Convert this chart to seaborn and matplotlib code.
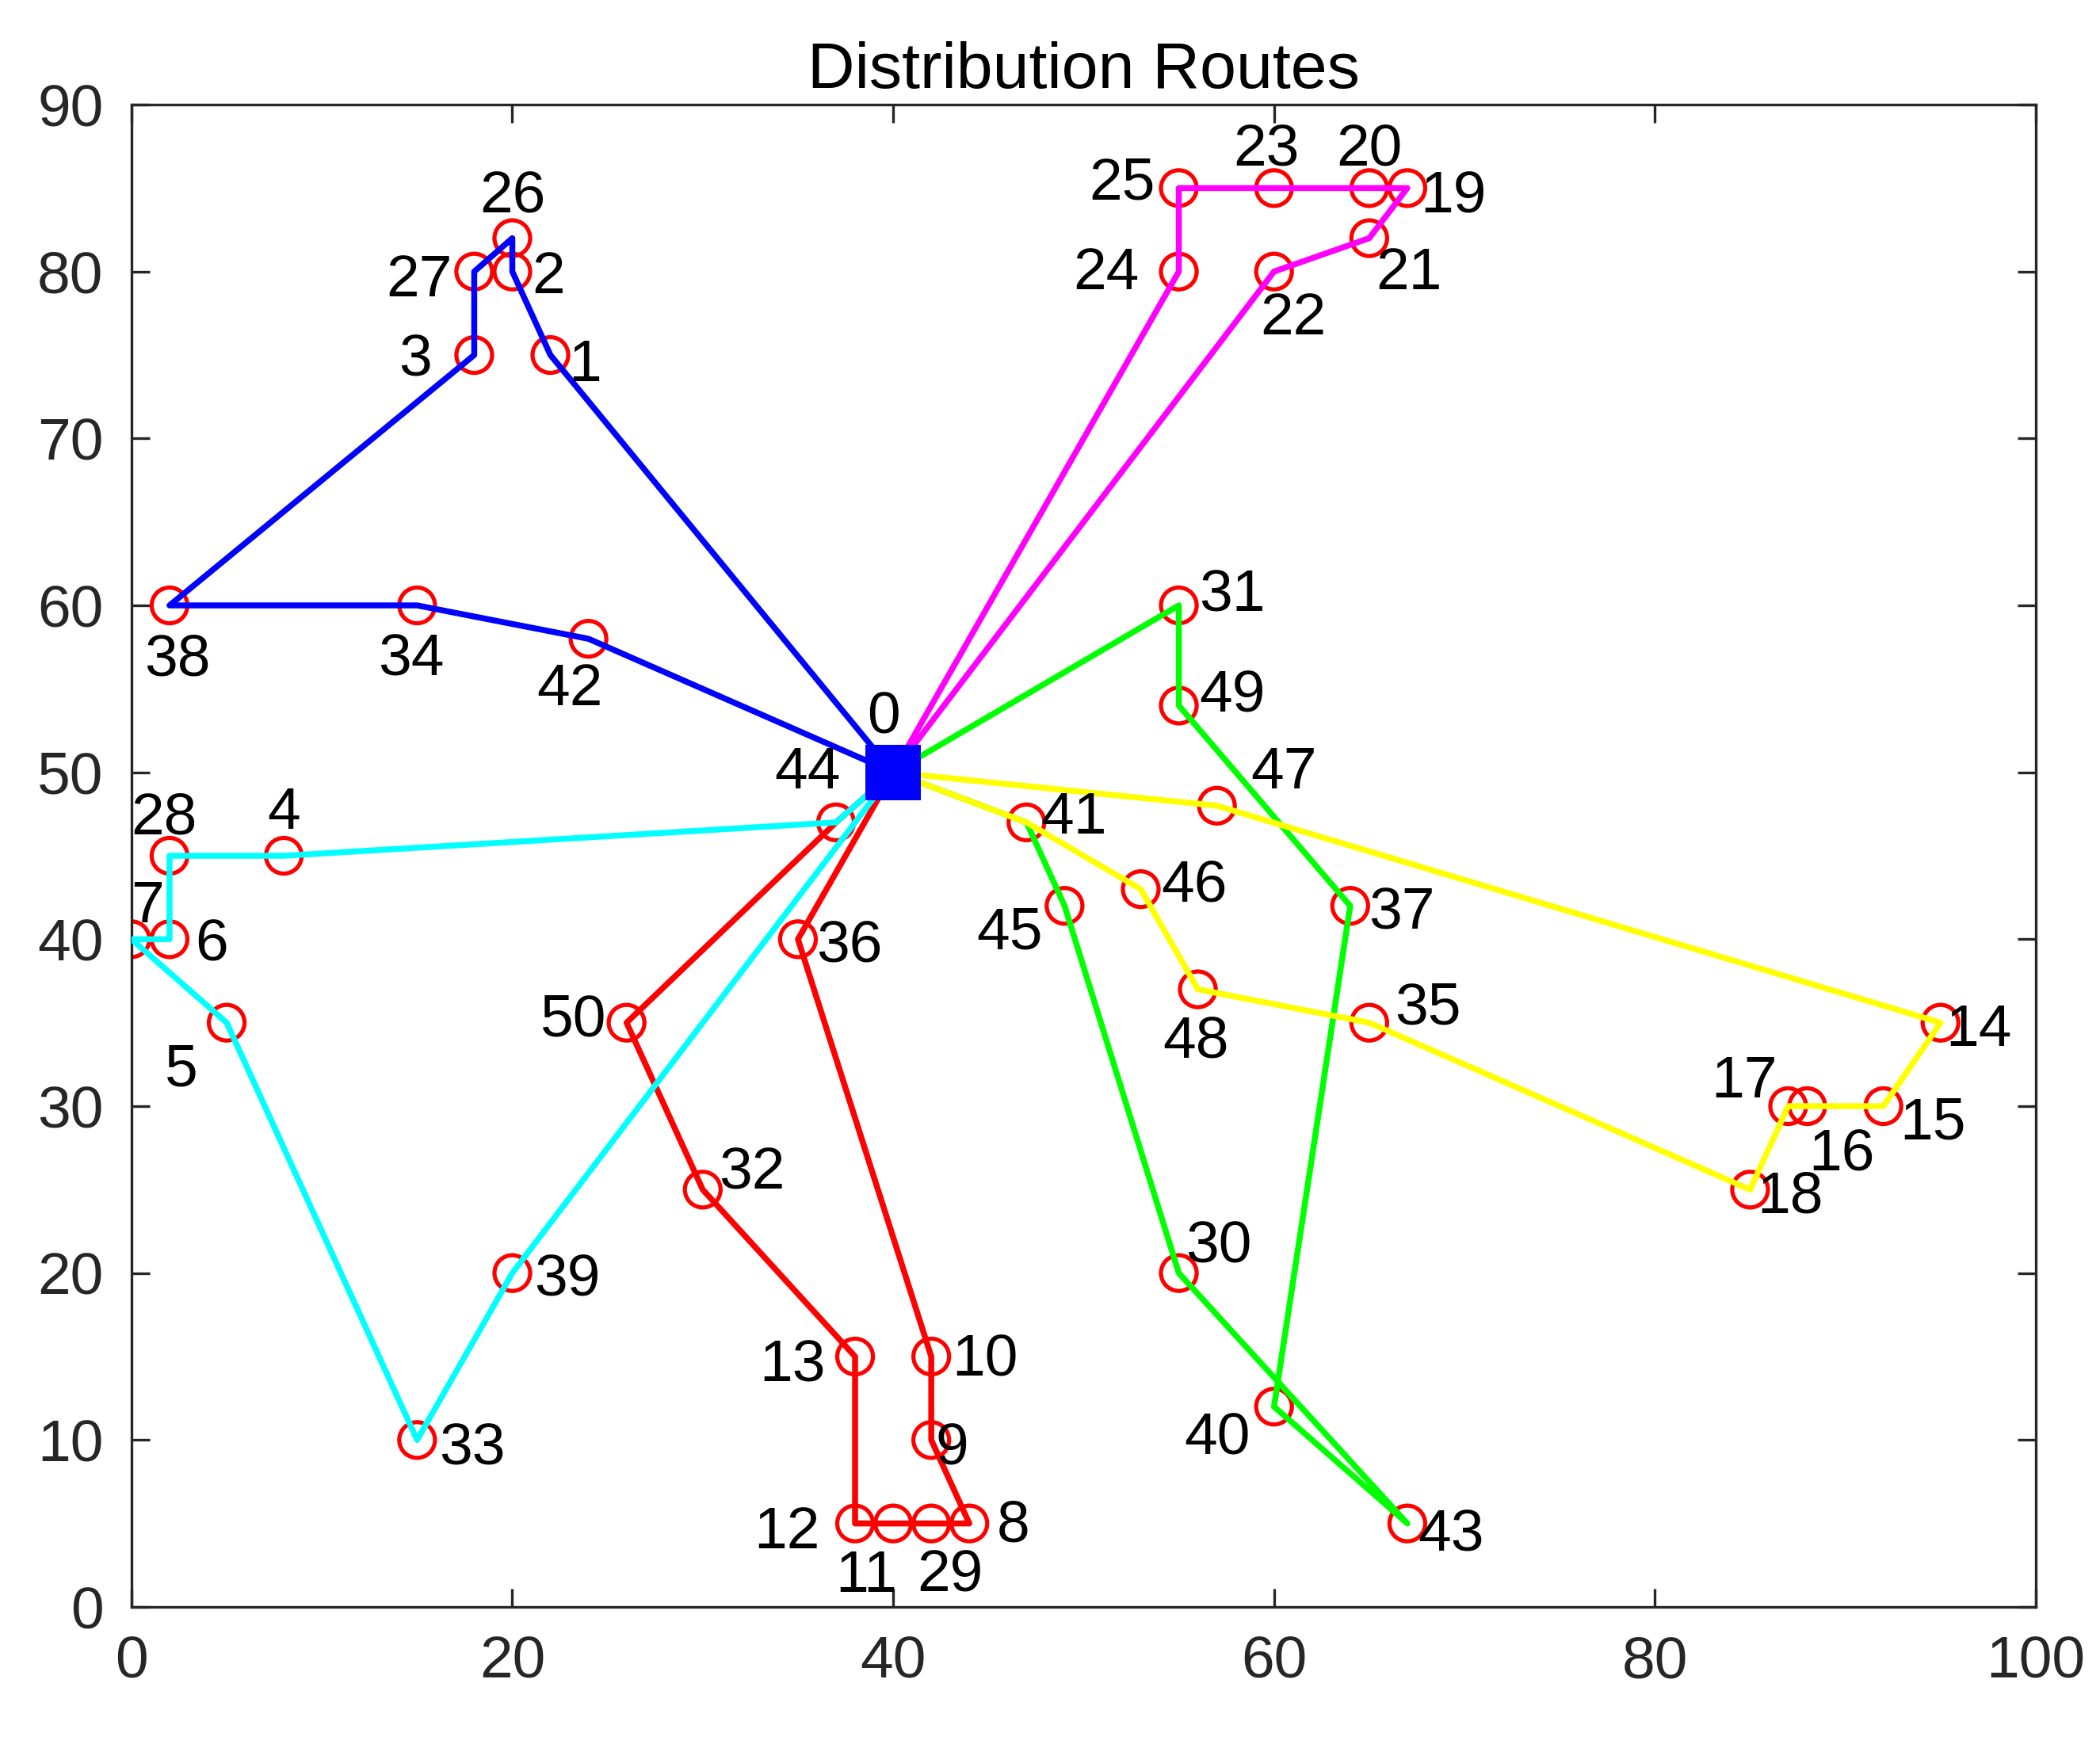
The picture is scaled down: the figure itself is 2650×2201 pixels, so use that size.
import matplotlib
matplotlib.use("Agg")
import matplotlib.pyplot as plt
import numpy as np
import pandas as pd
import seaborn as sns

# node coordinates (0 = depot)
node_id = list(range(51))
node_x = [40, 22, 20, 18, 8, 5, 2, 0, 44, 42, 42, 40, 38, 38, 95, 92, 88, 87, 85, 67,
          65, 65, 60, 60, 55, 55, 20, 18, 2, 42, 55, 55, 30, 15, 15, 65, 35, 64, 2, 20,
          60, 47, 24, 67, 37, 49, 53, 57, 56, 55, 26]
node_y = [50, 75, 80, 75, 45, 35, 40, 40, 5, 10, 15, 5, 5, 15, 35, 30, 30, 30, 25, 85,
          85, 82, 80, 85, 80, 85, 82, 80, 45, 5, 20, 60, 25, 10, 60, 35, 40, 42, 60, 20,
          12, 47, 58, 5, 47, 42, 43, 48, 37, 54, 35]

# vehicle routes as visiting order
route_names = ["R1", "R2", "R3", "R4", "R5", "R6"]
route_stops = [
    [0, 1, 2, 26, 27, 3, 38, 34, 42, 0],
    [0, 24, 25, 23, 20, 19, 21, 22, 0],
    [0, 41, 45, 30, 43, 40, 37, 49, 31, 0],
    [0, 47, 14, 15, 16, 17, 18, 35, 48, 46, 41, 0],
    [0, 36, 10, 9, 8, 29, 11, 12, 13, 32, 50, 44, 0],
    [0, 39, 33, 5, 7, 6, 28, 4, 44, 0],
]
route_colors = ["#0000ff", "#ff00ff", "#00ff00", "#ffff00", "#ff0000", "#00ffff"]

rows = []
for name, stops in zip(route_names, route_stops):
    for k, n in enumerate(stops):
        rows.append({"route": name, "step": k, "x": node_x[n], "y": node_y[n]})
routes = pd.DataFrame(rows)

nodes = pd.DataFrame({"id": node_id, "x": node_x, "y": node_y})
customers = nodes[nodes["id"] != 0]
depot = nodes[nodes["id"] == 0]

# label placement (offset from the node, data units)
label_off = {
    0: (-0.5, 3.6), 1: (1.8, -0.3), 2: (1.9, 0), 3: (-3.1, 0), 4: (0, 2.9),
    5: (-2.4, -2.5), 6: (2.2, 0), 7: (0.85, 2.3), 8: (2.3, 0.2), 9: (1.1, -0.2),
    10: (2.8, 0.1), 11: (-1.4, -2.8), 12: (-3.6, -0.2), 13: (-3.3, -0.2), 14: (2.0, -0.1),
    15: (2.6, -0.7), 16: (1.8, -2.6), 17: (-2.3, 1.8), 18: (2.1, -0.1), 19: (2.4, -0.2),
    20: (0, 2.6), 21: (2.1, -1.8), 22: (1.0, -2.5), 23: (-0.4, 2.6), 24: (-3.8, 0.2),
    25: (-3.0, 0.6), 26: (0, 2.8), 27: (-2.9, -0.2), 28: (-0.3, 2.6), 29: (1.0, -2.8),
    30: (2.1, 1.9), 31: (2.8, 0.9), 32: (2.6, 1.3), 33: (2.9, -0.2), 34: (-0.3, -2.9),
    35: (3.1, 1.2), 36: (2.7, -0.1), 37: (2.7, -0.1), 38: (0.4, -2.9), 39: (2.9, -0.1),
    40: (-3.0, -1.6), 41: (2.5, 0.6), 42: (-1.0, -2.7), 43: (2.3, -0.4), 44: (-1.5, 3.3),
    45: (-2.9, -1.3), 46: (2.8, 0.5), 47: (3.5, 2.3), 48: (-0.1, -2.8), 49: (2.8, 0.9),
    50: (-2.8, 0.5),
}

sns.set_style("ticks")
plt.rcParams["font.family"] = ["Liberation Sans", "DejaVu Sans"]

fig = plt.figure(figsize=(2650 / 300, 2201 / 300), dpi=300)
ax = fig.add_axes([0.0626, 0.0786, 0.9068, 0.8614])

sns.scatterplot(data=customers, x="x", y="y", marker="o", s=117,
                facecolor="none", edgecolor="#ff0000", linewidth=1.25,
                zorder=2, ax=ax)
sns.lineplot(data=routes, x="x", y="y", hue="route", hue_order=route_names,
             palette=dict(zip(route_names, route_colors)), sort=False,
             estimator=None, linewidth=1.8, legend=False, zorder=3, ax=ax)
sns.scatterplot(data=depot, x="x", y="y", marker="s", s=290, color="#0000ff",
                linewidth=0, zorder=4, ax=ax)

for n, x, y in zip(node_id, node_x, node_y):
    dx, dy = label_off[n]
    ax.text(x + dx, y + dy - 0.35, str(n), ha="center", va="center",
            fontsize=18, color="black", zorder=5)

ax.set_xlim(0, 100)
ax.set_ylim(0, 90)
ax.set_xticks(np.arange(0, 101, 20))
ax.set_yticks(np.arange(0, 91, 10))
ax.set(xlabel="", ylabel="")
ax.set_title("Distribution Routes", fontsize=19.8, pad=5, color="black")
ax.tick_params(direction="in", length=5.6, width=0.8, top=True, right=True,
               labelsize=18, pad=8.5, colors="#262626")
for sp in ax.spines.values():
    sp.set_visible(True)
    sp.set_color("#262626")
    sp.set_linewidth(0.8)

fig.savefig("out.png", dpi=300)
